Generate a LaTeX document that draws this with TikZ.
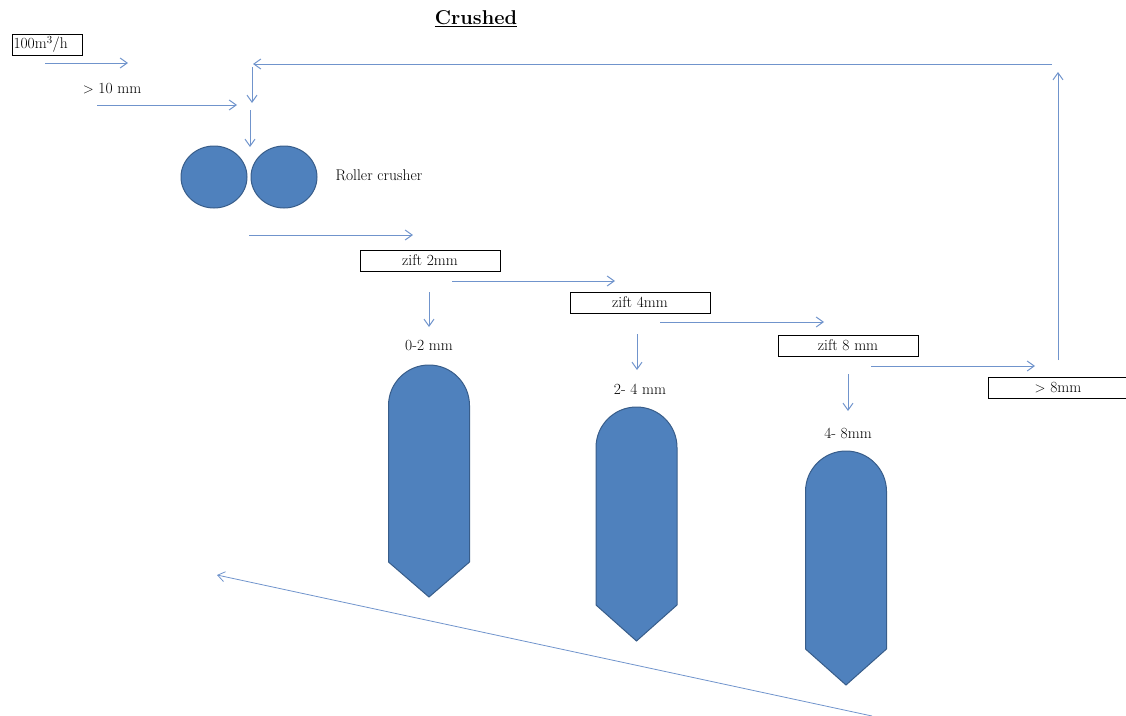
\documentclass[tikz,border=0pt]{standalone}
\usetikzlibrary{arrows.meta,shapes.geometric}

\definecolor{siloblue}{RGB}{79,129,189}
\definecolor{siloedge}{RGB}{56,93,138}
\definecolor{flowblue}{RGB}{112,148,204}

% silo: centre x, top of dome, bottom of body, tip
\newcommand{\silo}[4]{%
  \filldraw[silo] (#1-40.5,#3) -- (#1-40.5,#2+40.5)
    arc[start angle=180, end angle=0, radius=40.5pt] -- (#1+40.5,#3) -- (#1,#4) -- cycle;}

\begin{document}
\begin{tikzpicture}[x=1pt, y=-1pt,
    every node/.style={font=\fontsize{15.5}{18}\selectfont},
    flow/.style={-{Straight Barb[length=7pt, width=10pt]}, flowblue, line width=1pt},
    sieve/.style={draw, line width=1pt, minimum width=140pt, minimum height=21pt, inner sep=0pt},
    roller/.style={ellipse, draw=siloedge, fill=siloblue, line width=1pt,
                   minimum width=66pt, minimum height=62pt},
    silo/.style={draw=siloedge, fill=siloblue, line width=1pt}]
  \useasboundingbox (0,0) rectangle (1126,715);

  % Title
  \node[font=\fontsize{20}{24}\selectfont\bfseries] (title) at (476,19) {\underline{Crushed}};

  % Feed
  \node[draw, line width=1pt, anchor=west, minimum width=70pt, minimum height=21pt,
        inner sep=1pt, text width=68pt, align=left] (feed) at (12,44.5) {100m\textsuperscript{3}/h};
  \coordinate (feedA) at (45,63);  \coordinate (feedB) at (128,63);
  \draw[flow] (feedA) -- (feedB);
  \node (big) at (112,89) {$>$ 10 mm};
  \coordinate (bigA) at (97,105);  \coordinate (bigB) at (237,105);
  \draw[flow] (bigA) -- (bigB);

  % Return loop
  \coordinate (retR) at (1052,64);  \coordinate (retL) at (253,64);
  \draw[flow] (retR) -- (retL);
  \coordinate (retA) at (252,67);  \coordinate (retB) at (252,103);
  \draw[flow] (retA) -- (retB);
  \coordinate (inA) at (250,110);  \coordinate (inB) at (250,147);
  \draw[flow] (inA) -- (inB);

  % Roller crusher
  \node[roller] (rollL) at (214,177) {};
  \node[roller] (rollR) at (284,177) {};
  \node (crusher) at (379,175) {Roller crusher};
  \coordinate (outA) at (249,235);  \coordinate (outB) at (413,235);
  \draw[flow] (outA) -- (outB);

  % Sieves
  \node[sieve] (zift2) at (430,260.5) {zift 2mm};
  \node[sieve] (zift4) at (640,302.5) {zift 4mm};
  \node[sieve] (zift8) at (848,345.5) {zift 8 mm};
  \node[sieve] (over) at (1058,387.5) {$>$ 8mm};

  \coordinate (s2A) at (452,281);  \coordinate (s2B) at (615,281);
  \draw[flow] (s2A) -- (s2B);
  \coordinate (s4A) at (660,322);  \coordinate (s4B) at (824,322);
  \draw[flow] (s4A) -- (s4B);
  \coordinate (s8A) at (871,366);  \coordinate (s8B) at (1035,366);
  \draw[flow] (s8A) -- (s8B);
  \coordinate (upA) at (1058,360);  \coordinate (upB) at (1058,72);
  \draw[flow] (upA) -- (upB);

  % Fractions
  \coordinate (d2A) at (429,292);  \coordinate (d2B) at (429,327);
  \draw[flow] (d2A) -- (d2B);
  \node (frac2) at (429,345) {0-2 mm};
  \silo{429}{365}{562}{597}

  \coordinate (d4A) at (637,334);  \coordinate (d4B) at (637,370);
  \draw[flow] (d4A) -- (d4B);
  \node (frac4) at (640,389) {2- 4 mm};
  \silo{636.5}{407}{605}{641}

  \coordinate (d8A) at (848,374);  \coordinate (d8B) at (848,411);
  \draw[flow] (d8A) -- (d8B);
  \node (frac8) at (848,433) {4- 8mm};
  \silo{846}{451}{649}{685}

  % Back flow
  \coordinate (backA) at (872,716);  \coordinate (backB) at (217,575);
  \draw[flow, line width=0.8pt] (backA) -- (backB);
\end{tikzpicture}
\end{document}
